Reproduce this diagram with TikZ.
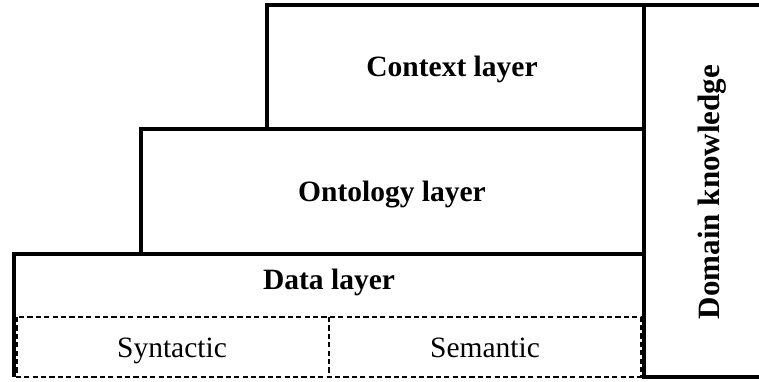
\documentclass[tikz,border=0pt]{standalone}
\usepackage{fontspec}
\setmainfont{Liberation Serif}
\begin{document}
\begin{tikzpicture}[x=0.5pt,y=-0.5pt,
  frame/.style={line width=1.9pt,line join=miter},
  subframe/.style={line width=0.8pt,dash pattern=on 2.6pt off 1.6pt},
  title/.style={font=\fontsize{14.75}{17}\selectfont\bfseries,inner sep=0pt,anchor=base},
  sub/.style={font=\fontsize{14.75}{17}\selectfont,inner sep=0pt,anchor=base}]
\useasboundingbox (0,0) rectangle (759,381);
\clip (0,0) rectangle (759,381);
\fill[white] (0,0) rectangle (759,381);
% layers
\draw[frame] (267,5) rectangle (644,129);
\draw[frame] (141,129) rectangle (644,254);
\draw[frame] (14,377) |- (644,254);
\draw[subframe] (17,317) rectangle (641,377);
\draw[subframe] (329,317) -- (329,377);
% domain knowledge column
\draw[frame] (644,5) rectangle (775,377);
% labels
\node[title] (ctx) at (452,76) {Context layer};
\node[title] (onto) at (392,201) {Ontology layer};
\node[title] (data) at (329,289) {Data layer};
\node[sub] (syn) at (172,357) {Syntactic};
\node[sub] (sem) at (485,357) {Semantic};
\node[title,font=\fontsize{15.5}{18}\selectfont\bfseries,rotate=90] (dom) at (719,192) {Domain knowledge};
\end{tikzpicture}
\end{document}
